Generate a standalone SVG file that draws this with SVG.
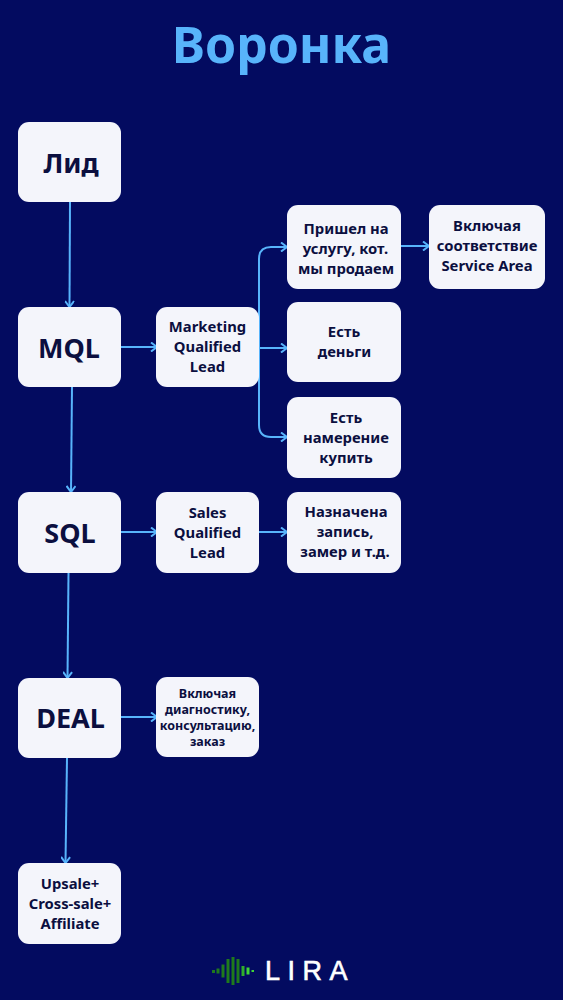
<svg xmlns="http://www.w3.org/2000/svg" width="563" height="1000" viewBox="0 0 563 1000">
<style>
.n{fill:#f4f5fb}
text{font-family:"Noto Sans","Open Sans",sans-serif;font-weight:700;fill:#0b0f3f;text-anchor:middle}
.b{font-size:27px}
.m{font-size:14.8px}
.s{font-size:12.5px}
.c{fill:none;stroke:#58b4fb;stroke-width:2}
</style>
<defs><marker id="a" viewBox="0 0 10 10" refX="9" refY="5" markerWidth="10" markerHeight="10" markerUnits="userSpaceOnUse" orient="auto"><path d="M3 0.500L9 5L3 9.500" fill="none" stroke="#58b4fb" stroke-width="2"/></marker></defs>
<rect width="563" height="1000" fill="#030b60"/>
<text x="281.500" y="63" style="font-size:50px;fill:#58b4fb">Воронка</text>
<g id="connectors">
<path class="c" marker-end="url(#a)" d="M70 202L69.500 307"/>
<path class="c" marker-end="url(#a)" d="M72 387L71 492"/>
<path class="c" marker-end="url(#a)" d="M68.500 573L67.500 678"/>
<path class="c" marker-end="url(#a)" d="M67 758L65.500 863"/>
<path class="c" marker-end="url(#a)" d="M121 347H157"/>
<path class="c" marker-end="url(#a)" d="M121 532H157"/>
<path class="c" marker-end="url(#a)" d="M121 717H157"/>
<path class="c" marker-end="url(#a)" d="M259 532H287"/>
<path class="c" marker-end="url(#a)" d="M259 348H287"/>
<path class="c" marker-end="url(#a)" d="M259 347V259Q259 247 271 247H287"/>
<path class="c" marker-end="url(#a)" d="M259 347V425Q259 437 271 437H287"/>
<path class="c" marker-end="url(#a)" d="M401 246H429"/>
</g>
<g id="lid"><rect class="n" x="18" y="122" width="103" height="80" rx="11"/><text class="b" x="71" y="173">Лид</text></g>
<g id="mql"><rect class="n" x="18" y="307" width="103" height="80" rx="11"/><text class="b" x="69" y="358">MQL</text></g>
<g id="sql"><rect class="n" x="18" y="492" width="103" height="81" rx="11"/><text class="b" x="70" y="543">SQL</text></g>
<g id="deal"><rect class="n" x="18" y="678" width="103" height="80" rx="11"/><text class="b" x="70.500" y="728">DEAL</text></g>
<g id="upsale"><rect class="n" x="18" y="863" width="103" height="81" rx="11"/><text class="m" x="70" y="889">Upsale+</text><text class="m" x="70" y="909">Cross-sale+</text><text class="m" x="70" y="929">Affiliate</text></g>
<g id="mql-def"><rect class="n" x="156" y="307" width="103" height="80" rx="11"/><text class="m" x="207.500" y="332">Marketing</text><text class="m" x="207.500" y="352">Qualified</text><text class="m" x="207.500" y="372">Lead</text></g>
<g id="sql-def"><rect class="n" x="156" y="492" width="103" height="81" rx="11"/><text class="m" x="207.500" y="518">Sales</text><text class="m" x="207.500" y="538">Qualified</text><text class="m" x="207.500" y="558">Lead</text></g>
<g id="deal-def"><rect class="n" x="156" y="677" width="103" height="80" rx="11"/><text class="s" x="207.500" y="698">Включая</text><text class="s" x="207.500" y="714">диагностику,</text><text class="s" x="207.500" y="730">консультацию,</text><text class="s" x="207.500" y="746">заказ</text></g>
<g id="came"><rect class="n" x="287" y="205" width="114" height="84" rx="11"/><text class="m" x="346" y="234">Пришел на</text><text class="m" x="345.500" y="254">услугу, кот.</text><text class="m" x="346" y="274">мы продаем</text></g>
<g id="money"><rect class="n" x="287" y="302" width="114" height="80" rx="11"/><text class="m" x="344" y="337">Есть</text><text class="m" x="344.500" y="357">деньги</text></g>
<g id="intent"><rect class="n" x="287" y="397" width="114" height="81" rx="11"/><text class="m" x="346" y="423">Есть</text><text class="m" x="346" y="443">намерение</text><text class="m" x="346" y="463">купить</text></g>
<g id="booked"><rect class="n" x="287" y="492" width="114" height="81" rx="11"/><text class="m" x="346" y="517">Назначена</text><text class="m" x="345" y="537">запись,</text><text class="m" x="345" y="557">замер и т.д.</text></g>
<g id="service"><rect class="n" x="429" y="205" width="116" height="84" rx="11"/><text class="m" x="487" y="231">Включая</text><text class="m" x="487" y="251">соответствие</text><text class="m" x="487" y="271">Service Area</text></g>
<g id="logo">
<g fill="#1f7a1c"><rect x="212" y="970" width="3" height="3"/><rect x="216.500" y="968.500" width="3" height="5"/><rect x="221.500" y="964.500" width="3" height="13"/><rect x="226.500" y="959" width="3" height="24"/><rect x="231.500" y="957" width="3" height="28"/><rect x="236.500" y="959" width="3" height="24"/></g>
<g fill="#2fae2a"><rect x="241.500" y="966" width="3" height="10"/></g>
<g fill="#3fd636"><rect x="246.500" y="967.500" width="3" height="7"/><rect x="251.500" y="970" width="2.500" height="2"/></g>
<text x="265" y="980" style="font-size:27px;font-weight:400;fill:#fff;stroke:#fff;stroke-width:.6px;letter-spacing:7.500px;text-anchor:start;font-family:'Liberation Sans',sans-serif">LIRA</text>
</g>
</svg>
